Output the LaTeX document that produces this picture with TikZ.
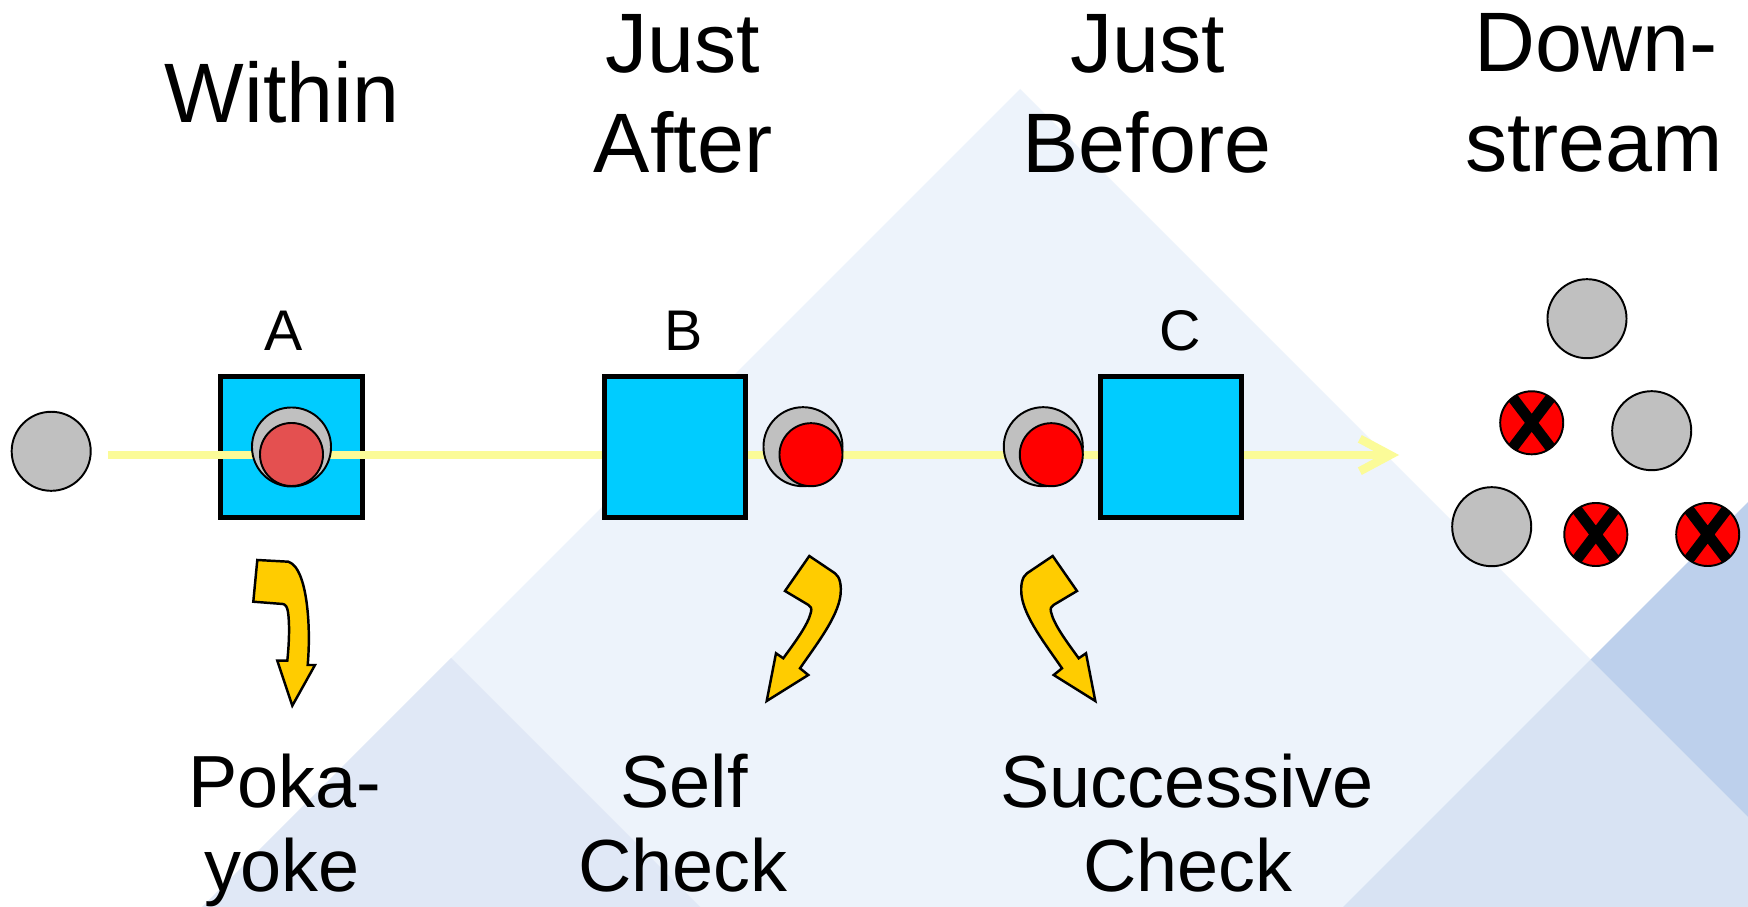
\documentclass[tikz,border=0pt]{standalone}
\usepackage{fontspec}
\setmainfont{Liberation Sans}
\usetikzlibrary{arrows.meta}

\definecolor{bgpale}{HTML}{EDF3FB}
\definecolor{bgsoft}{HTML}{E0E8F6}
\definecolor{bgmid}{HTML}{D8E3F3}
\definecolor{bgdeep}{HTML}{BDD0EC}
\definecolor{stationblue}{HTML}{00CCFF}
\definecolor{partgray}{HTML}{C0C0C0}
\definecolor{defectred}{HTML}{FF0000}
\definecolor{softred}{HTML}{E45050}
\definecolor{flowyellow}{HTML}{FBFB98}
\definecolor{arrowgold}{HTML}{FFCC00}

% outline of the curved block arrow leaving station B (mirrored for C)
\newcommand\bentarrowpath{(809.3,556) -- (835,573.3)
  .. controls (840,577) and (841.5,585) .. (840.5,595)
  .. controls (838,617) and (816,645) .. (800,668.3)
  -- (808.3,675) -- (766.7,701) -- (776,653.3) -- (783.3,658.3)
  .. controls (795,642) and (808,625) .. (811,612)
  .. controls (811.8,608.5) and (811,606.5) .. (808.5,605)
  -- (785,591) -- cycle}

\begin{document}
\begin{tikzpicture}[x=0.01cm,y=-0.01cm,
  station/.style={draw=black, line width=1.42pt, fill=stationblue,
    minimum size=1.41cm, inner sep=0pt},
  part/.style={circle, draw=black, line width=0.55pt, fill=partgray,
    minimum size=0.79cm, inner sep=0pt},
  defect/.style={circle, draw=black, line width=0.55pt, fill=defectred,
    minimum size=0.63cm, inner sep=0pt},
  rejected/.style={defect, path picture={
    \draw[line width=3.1pt, shift={(path picture bounding box.center)}]
      (-19,-25) -- (19,25) (19,-25) -- (-19,25);}},
  flow/.style={draw=flowyellow, line width=2.4pt},
  bentarrow/.style={draw=black, line width=0.7pt, fill=arrowgold, line join=miter},
  heading/.style={font=\fontsize{24}{28}\selectfont, anchor=base, inner sep=0pt},
  method/.style={font=\fontsize{21}{24}\selectfont, anchor=base, inner sep=0pt},
  stationlabel/.style={font=\fontsize{16.3}{19}\selectfont, anchor=base, inner sep=0pt}
]
\useasboundingbox (0,0) rectangle (1748,907);

% background triangles
\begin{scope}
  \clip (0,0) rectangle (1748,907);
  \fill[white] (0,0) rectangle (1748,907);
  \fill[bgpale] (1020,89) -- (1900,969) -- (140,969) -- cycle;
  \fill[bgsoft] (451,658) -- (762,969) -- (140,969) -- cycle;
  \fill[bgmid] (1281,969) -- (1590.5,659.5) -- (1900,969) -- cycle;
  \fill[bgdeep] (1590.5,659.5) -- (1900,350) -- (1900,969) -- cycle;
\end{scope}

% headings
\node[heading] (within) at (282,123) {Within};
\node[heading] (afterA) at (683,72.5) {Just};
\node[heading] (afterB) at (683,172.5) {After};
\node[heading] (beforeA) at (1147.5,72.5) {Just};
\node[heading] (beforeB) at (1147,172.5) {Before};
\node[heading] (downA) at (1596,72) {Down-};
\node[heading] (downB) at (1594,172) {stream};

% station letters
\node[stationlabel] (labA) at (283.7,351) {A};
\node[stationlabel] (labB) at (684,351) {B};
\node[stationlabel] (labC) at (1180,351) {C};

% incoming part and station A
\node[part] (start) at (51.2,451.3) {};
\node[station] (stA) at (291.5,447) {};

% material flow
\coordinate (flowstart) at (108,455);
\coordinate (flowend) at (1399,455);
\draw[flow, -{Straight Barb[length=8.6pt,width=9.2pt]}] (flowstart) -- (flowend);

% stations B and C
\node[station] (stB) at (675,447) {};
\node[station] (stC) at (1171,447) {};

% parts at each station
\node[part] (pA) at (291.5,447) {};
\node[defect, fill=softred] (dA) at (291.5,454.5) {};
\node[part] (pB) at (803,446.7) {};
\node[defect] (dB) at (811,454.7) {};
\node[part] (pC) at (1043.3,446.7) {};
\node[defect] (dC) at (1051.3,454.7) {};

% parts downstream
\node[part] (d1) at (1587,318.7) {};
\node[rejected] (d2) at (1531.7,422.8) {};
\node[part] (d3) at (1651.7,430.7) {};
\node[part] (d4) at (1491.7,526.7) {};
\node[rejected] (d5) at (1595.8,534.5) {};
\node[rejected] (d6) at (1707.7,534.5) {};

% curved block arrows
\draw[bentarrow] (257.3,560) -- (288.3,561.7)
  .. controls (299,565) and (305,585) .. (307.5,610)
  .. controls (309.5,630) and (309,650) .. (307.7,665)
  -- (315,665) -- (292.3,705.7) -- (277.3,660.7) -- (287.3,660.7)
  .. controls (289.5,640) and (289.5,622) .. (288,612)
  .. controls (287.3,607) and (285.5,604.3) .. (282.7,604)
  -- (253.3,601.7) -- cycle;
\draw[bentarrow] \bentarrowpath;
\begin{scope}[shift={(1862,0)}, xscale=-1]
  \draw[bentarrow] \bentarrowpath;
\end{scope}

% method names
\node[method] (pokaA) at (284.8,808) {Poka-};
\node[method] (pokaB) at (282,892) {yoke};
\node[method] (selfA) at (684,808) {Self};
\node[method] (selfB) at (683,892) {Check};
\node[method] (succA) at (1187,808) {Successive};
\node[method] (succB) at (1188,892) {Check};
\end{tikzpicture}
\end{document}
